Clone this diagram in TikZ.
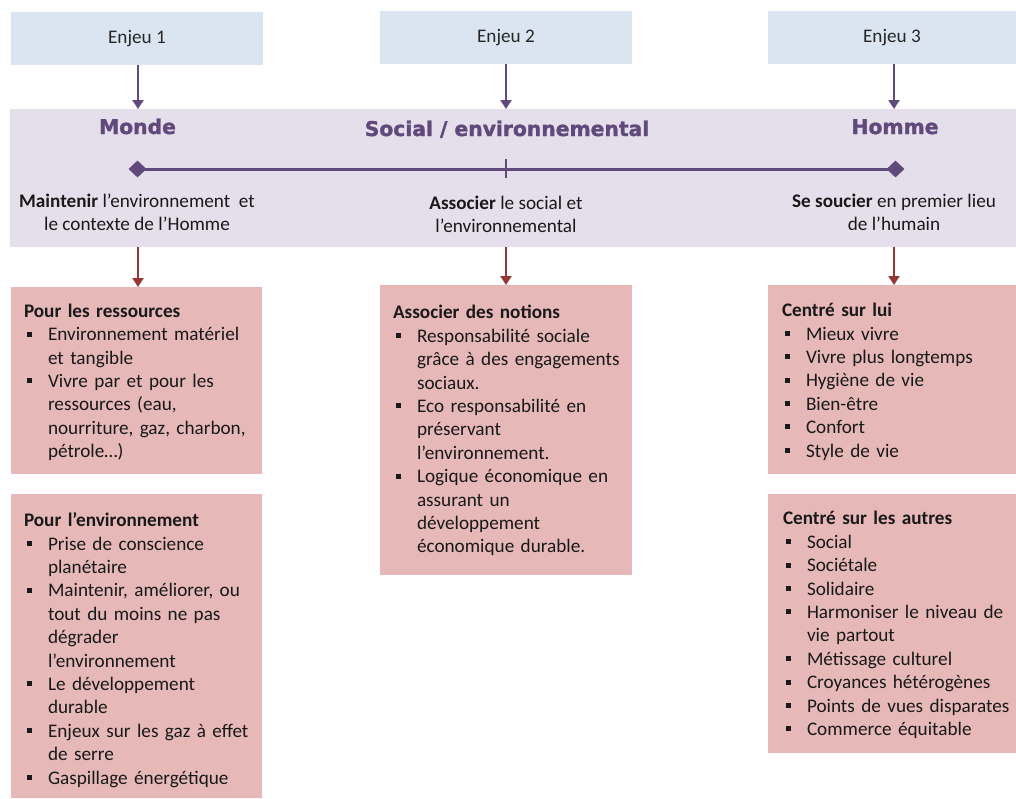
\documentclass[tikz,border=0pt]{standalone}
\usepackage{fontspec}
\setmainfont{Carlito}
\newfontfamily\titlefont{DejaVu Sans}[BoldFeatures={FakeBold=1.6}]
\usetikzlibrary{arrows.meta,shapes.geometric}
\definecolor{bandcol}{HTML}{E5DFEC}
\definecolor{enjcol}{HTML}{DBE5F1}
\definecolor{pinkcol}{HTML}{E6B9B8}
\definecolor{purp}{HTML}{604A7B}
\definecolor{dred}{HTML}{953735}
\newcommand{\itm}{\par\hangindent=24pt\hangafter=1\noindent\makebox[24pt][l]{\hspace{3pt}\raisebox{4.2pt}{\rule{5pt}{5pt}}}}
\tikzset{
  panel/.style={draw=none, inner sep=0pt, outer sep=0pt, anchor=north west},
  enjeu/.style={panel, fill=enjcol, font=\fontsize{19.2}{23}\selectfont, text=black!85},
  pinkbox/.style={panel, fill=pinkcol},
  listtext/.style={anchor=north west, inner sep=0pt, outer sep=0pt, text width=238pt, align=left,
     font=\fontsize{19.2}{23.4}\selectfont, text=black!90},
  bandtext/.style={anchor=north, inner sep=0pt, outer sep=0pt, align=center,
     font=\fontsize{19.2}{23}\selectfont, text=black!90},
  headtitle/.style={anchor=base, inner sep=0pt, text=purp, font=\titlefont\bfseries\fontsize{20.3}{24}\selectfont},
  purparrow/.style={draw=purp, line width=2.3pt, -{Triangle[width=11pt,length=9pt]}},
  redarrow/.style={draw=dred, line width=2.3pt, -{Triangle[width=11pt,length=9pt]}},
  endmark/.style={diamond, fill=purp, inner sep=0pt, minimum width=18pt, minimum height=17pt},
}
\begin{document}
\begin{tikzpicture}[x=1pt,y=-1pt]
\useasboundingbox (0,0) rectangle (1016,798);
% column positions
\coordinate (x1) at (138,0);
\coordinate (x2) at (506,0);
\coordinate (x3) at (894,0);
% top boxes
\node[enjeu, minimum width=252pt, minimum height=53pt] (e1) at (11,12) {Enjeu 1};
\node[enjeu, minimum width=252pt, minimum height=53pt] (e2) at (380,11) {Enjeu 2};
\node[enjeu, minimum width=248pt, minimum height=53pt] (e3) at (768,11) {Enjeu 3};
% band
\node[panel, fill=bandcol, minimum width=1006pt, minimum height=138pt] (band) at (10,109) {};
% titles
\node[headtitle] (tmonde) at (137.5,134) {Monde};
\node[headtitle] (tsocial) at (507,136) {Social / environnemental};
\node[headtitle] (thomme) at (895,134) {Homme};
% axis
\node[endmark] (dL) at (137.5,169) {};
\node[endmark] (dR) at (895.5,169) {};
\draw[purp, line width=3pt] (dL.center) -- (dR.center);
\coordinate (tk) at (506,169);
\draw[purp, line width=2.5pt] ([yshift=10pt]tk) -- ([yshift=-9pt]tk);
% band texts
\node[bandtext] (s1) at (137,191.6) {\strut\textbf{Maintenir} l’environnement\ \ et\\le contexte de l’Homme};
\node[bandtext] (s2) at (506,192.9) {\strut\textbf{Associer} le social et\\l’environnemental};
\node[bandtext] (s3) at (894,190.9) {\strut\textbf{Se soucier} en premier lieu\\de l’humain};
% pink boxes
\node[pinkbox, minimum width=251pt, minimum height=187pt] (b1) at (11,287) {};
\node[pinkbox, minimum width=251pt, minimum height=304pt] (b2) at (11,494) {};
\node[pinkbox, minimum width=252pt, minimum height=290pt] (b3) at (380,285) {};
\node[pinkbox, minimum width=248pt, minimum height=189pt] (b4) at (768,285) {};
\node[pinkbox, minimum width=248pt, minimum height=259pt] (b5) at (768,494) {};
% arrows
\draw[purparrow] (e1.south -| x1) -- (band.north -| x1);
\draw[purparrow] (e2.south -| x2) -- (band.north -| x2);
\draw[purparrow] (e3.south -| x3) -- (band.north -| x3);
\draw[redarrow] (band.south -| x1) -- (b1.north -| x1);
\draw[redarrow] (band.south -| x2) -- (b3.north -| x2);
\draw[redarrow] (band.south -| x3) -- (b4.north -| x3);
% list texts
\node[listtext] (l1) at (24,301) {\noindent\strut\textbf{Pour les ressources}
\itm Environnement matériel\newline et tangible
\itm Vivre par et pour les\newline ressources (eau,\newline nourriture, gaz, charbon,\newline pétrole…)\par};
\node[listtext] (l2) at (24,510.3) {\noindent\strut\textbf{Pour l’environnement}
\itm Prise de conscience\newline planétaire
\itm Maintenir, améliorer, ou\newline tout du moins ne pas\newline dégrader\newline l’environnement
\itm Le développement\newline durable
\itm Enjeux sur les gaz à effet\newline de serre
\itm Gaspillage énergétique\par};
\node[listtext] (l3) at (393,302.6) {\noindent\strut\textbf{Associer des notions}
\itm Responsabilité sociale\newline grâce à des engagements\newline sociaux.
\itm Eco responsabilité en\newline préservant\newline l’environnement.
\itm Logique économique en\newline assurant un\newline développement\newline économique durable.\par};
\node[listtext] (l4) at (782,300.3) {\noindent\strut\textbf{Centré sur lui}
\itm Mieux vivre
\itm Vivre plus longtemps
\itm Hygiène de vie
\itm Bien-être
\itm Confort
\itm Style de vie\par};
\node[listtext] (l5) at (783,508.6) {\noindent\strut\textbf{Centré sur les autres}
\itm Social
\itm Sociétale
\itm Solidaire
\itm Harmoniser le niveau de\newline vie partout
\itm Métissage culturel
\itm Croyances hétérogènes
\itm Points de vues disparates
\itm Commerce équitable\par};
\end{tikzpicture}
\end{document}
